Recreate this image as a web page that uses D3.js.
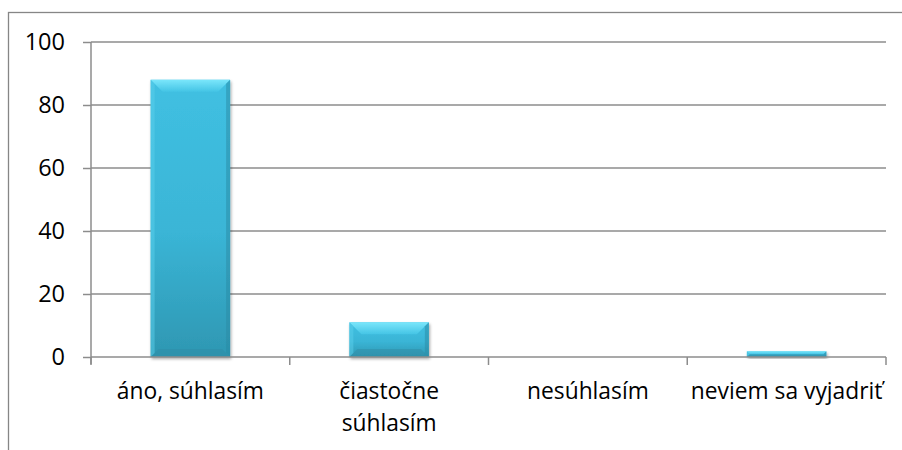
<!DOCTYPE html>
<html>
<head>
<meta charset="utf-8">
<title>Odpovede</title>
<style>
  html, body { margin:0; padding:0; background:#fff; }
  svg { display:block; }
  .tick text { font-family: "Open Sans", sans-serif; fill: #000; }
  .y-axis .tick text { font-size: 23.5px; }
  .x-axis .tick text { font-size: 22.8px; }
</style>
<script src="https://d3js.org/d3.v7.min.js"></script>
</head>
<body>
<svg id="chart"></svg>
<script>
// data
var categories = ["áno, súhlasím", "čiastočne súhlasím", "nesúhlasím", "neviem sa vyjadriť"];
var labelLines = [["áno, súhlasím"], ["čiastočne", "súhlasím"], ["nesúhlasím"], ["neviem sa vyjadriť"]];
var values = [88, 11, 0, 1.8];
var yTicks = [0, 20, 40, 60, 80, 100];

var width = 902, height = 450;
var margin = {left: 91, right: 16, top: 42, bottom: 93};

var svg = d3.select("#chart")
    .attr("width", width)
    .attr("height", height);

// outer chart border (runs off the right and bottom edge)
svg.append("rect")
    .attr("x", 8.5).attr("y", 12.5)
    .attr("width", 920).attr("height", 460)
    .attr("fill", "none")
    .attr("stroke", "#868686")
    .attr("stroke-width", 1.3);

var x = d3.scaleBand()
    .domain(categories)
    .range([margin.left, width - margin.right])
    .paddingInner(0.6)
    .paddingOuter(0.3);

var y = d3.scaleLinear()
    .domain([0, 100])
    .range([height - margin.bottom, margin.top]);

// gridlines
svg.append("g")
  .selectAll("line")
  .data(yTicks.slice(1))
  .enter().append("line")
    .attr("x1", margin.left).attr("x2", width - margin.right)
    .attr("y1", function(d) { return y(d); })
    .attr("y2", function(d) { return y(d); })
    .attr("stroke", "#8c8c8c")
    .attr("stroke-width", 1.5);

// defs for bevelled bars
var defs = svg.append("defs");
var grad = defs.append("linearGradient").attr("id", "barGrad")
    .attr("x1", 0).attr("y1", 0).attr("x2", 0).attr("y2", 1);
grad.append("stop").attr("offset", "0%").attr("stop-color", "#40c0e2");
grad.append("stop").attr("offset", "55%").attr("stop-color", "#3ab5d6");
grad.append("stop").attr("offset", "100%").attr("stop-color", "#2e97b2");

var topGrad = defs.append("linearGradient").attr("id", "topGrad")
    .attr("x1", 0).attr("y1", 0).attr("x2", 0).attr("y2", 1);
topGrad.append("stop").attr("offset", "0%").attr("stop-color", "#7ae6fb");
topGrad.append("stop").attr("offset", "100%").attr("stop-color", "#44c4e5");

var shadow = defs.append("filter").attr("id", "shadow")
    .attr("x", "-10%").attr("y", "-10%").attr("width", "130%").attr("height", "130%");
shadow.append("feDropShadow")
    .attr("dx", 1).attr("dy", 2).attr("stdDeviation", 1.5)
    .attr("flood-color", "#000").attr("flood-opacity", 0.35);

var bars = svg.append("g")
  .selectAll("g")
  .data(values.map(function(v, i) { return {cat: categories[i], v: v}; }).filter(function(d) { return d.v > 0; }))
  .enter().append("g")
    .attr("filter", "url(#shadow)");

bars.append("rect")
    .attr("x", function(d) { return x(d.cat); })
    .attr("y", function(d) { return y(d.v); })
    .attr("width", x.bandwidth())
    .attr("height", function(d) { return y(0) - y(d.v); })
    .attr("fill", "url(#barGrad)");

// bevel: light top, darker sides/bottom
bars.append("polygon")
    .attr("fill", "url(#topGrad)")
    .attr("points", function(d) {
      var x0 = x(d.cat), x1 = x0 + x.bandwidth(), t = y(d.v);
      var b = Math.min(12, (y(0) - t) / 2);
      return [[x0, t], [x1, t], [x1 - b, t + b], [x0 + b, t + b]].join(" ");
    });
bars.append("polygon")
    .attr("fill", "#2f8ca5").attr("opacity", 0.5)
    .attr("points", function(d) {
      var x0 = x(d.cat), x1 = x0 + x.bandwidth(), t = y(d.v), bt = y(0);
      var b = Math.min(8, (bt - t) / 2);
      return [[x0, bt], [x1, bt], [x1 - b, bt - b], [x0 + b, bt - b]].join(" ");
    });
bars.append("polygon")
    .attr("fill", "#5ccfec").attr("opacity", 0.5)
    .attr("points", function(d) {
      var x0 = x(d.cat), t = y(d.v), bt = y(0);
      var b = Math.min(4, (bt - t) / 2);
      return [[x0, t], [x0 + b, t + b], [x0 + b, bt - b], [x0, bt]].join(" ");
    });
bars.append("polygon")
    .attr("fill", "#2a8aa3").attr("opacity", 0.5)
    .attr("points", function(d) {
      var x1 = x(d.cat) + x.bandwidth(), t = y(d.v), bt = y(0);
      var b = Math.min(4, (bt - t) / 2);
      return [[x1, t], [x1 - b, t + b], [x1 - b, bt - b], [x1, bt]].join(" ");
    });

// y axis
var yAxis = svg.append("g")
    .attr("class", "y-axis")
    .attr("transform", "translate(" + margin.left + ",0)")
    .call(d3.axisLeft(y).tickValues(yTicks).tickSize(8).tickPadding(18));
yAxis.selectAll("line").attr("stroke", "#8c8c8c").attr("stroke-width", 1.5);
yAxis.select(".domain").attr("stroke", "#8c8c8c").attr("stroke-width", 1.5)
    .attr("d", "M0," + (y(0) + 7) + "V" + y(100));

// x axis
var xAxis = svg.append("g")
    .attr("class", "x-axis")
    .attr("transform", "translate(0," + y(0) + ")")
    .call(d3.axisBottom(x).tickSize(0).tickPadding(26));
xAxis.select(".domain").attr("stroke", "#8c8c8c").attr("stroke-width", 1.5)
    .attr("d", "M" + margin.left + ",0H" + (width - margin.right));
xAxis.selectAll(".tick text").each(function(d, i) {
  var t = d3.select(this).text(null);
  labelLines[i].forEach(function(line, j) {
    t.append("tspan").attr("x", 0).attr("dy", j === 0 ? "0.71em" : "1.4em").text(line);
  });
});
// category boundary ticks
svg.append("g")
  .selectAll("line")
  .data(d3.range(categories.length + 1))
  .enter().append("line")
    .attr("x1", function(i) { return margin.left + i * (width - margin.left - margin.right) / categories.length; })
    .attr("x2", function(i) { return margin.left + i * (width - margin.left - margin.right) / categories.length; })
    .attr("y1", y(0)).attr("y2", y(0) + 8)
    .attr("stroke", "#8c8c8c").attr("stroke-width", 1.5);
</script>
</body>
</html>
